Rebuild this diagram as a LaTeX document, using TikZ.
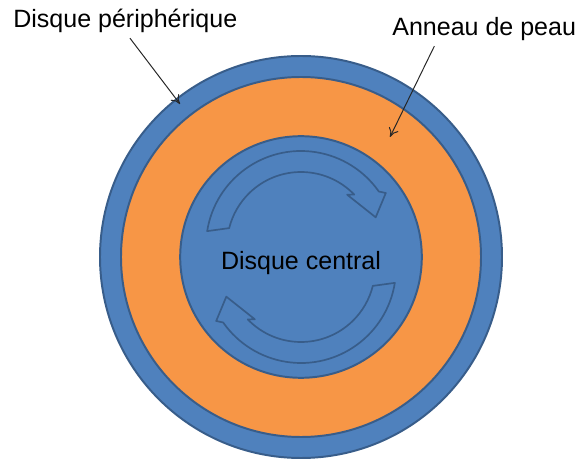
\documentclass[tikz,border=0pt]{standalone}
\usepackage{fontspec}
\setmainfont{Liberation Sans}
\usetikzlibrary{arrows.meta}
\definecolor{discblue}{HTML}{4F81BD}
\definecolor{skinorange}{HTML}{F79646}
\definecolor{rimblue}{HTML}{385D8A}
\def\swirl[#1]{\draw[swirlarrow, rotate=#1, shift={(0,0.275)}] (171:2.375) arc (171:35:2.375) -- (32:2.5) -- (21:2.0) -- (48:1.725) -- (44:1.85) arc (44:166:1.85) -- cycle;}

\begin{document}
\begin{tikzpicture}[
	bluedisc/.style={fill=discblue, draw=rimblue, line width=1.4pt},
	skinring/.style={fill=skinorange, draw=rimblue, line width=1.4pt},
	swirlarrow/.style={fill=discblue, draw=rimblue, line width=1.2pt, line join=round},
	labeltext/.style={font=\fontsize{17.8}{21}\selectfont, inner sep=3.3pt},
	pointer/.style={draw=black!85, line width=0.7pt, -{To[length=2.2mm,width=2.6mm]}}
	]
		%%%%% START %%%%%
		\useasboundingbox (-7.525,-5.1) rectangle (6.975,6.425);
		
		\draw[bluedisc] (0,0) circle (5.025);
		\draw[skinring] (0,0) circle (4.5);
		\draw[bluedisc] (0,0) circle (3.02);
		
		\swirl[0]
		\swirl[180]
		
		\node[labeltext, anchor=base] (central) at (0,-0.325) {Disque central};
		
		\node[labeltext, anchor=base west] (periph) at (-7.315,5.725) {Disque périphérique};
		\node[labeltext, anchor=base west] (anneau) at (2.16,5.525) {Anneau de peau};
		
		\coordinate (periphtip) at (-3.025,3.825);
		\coordinate (anneautip) at (2.225,3.0);
		\draw[pointer] ([xshift=0.115cm]periph.south) -- (periphtip);
		\draw[pointer] ([xshift=-1.245cm]anneau.south) -- (anneautip);
		
		%%%%% END %%%%%
	\end{tikzpicture}
\end{document}
